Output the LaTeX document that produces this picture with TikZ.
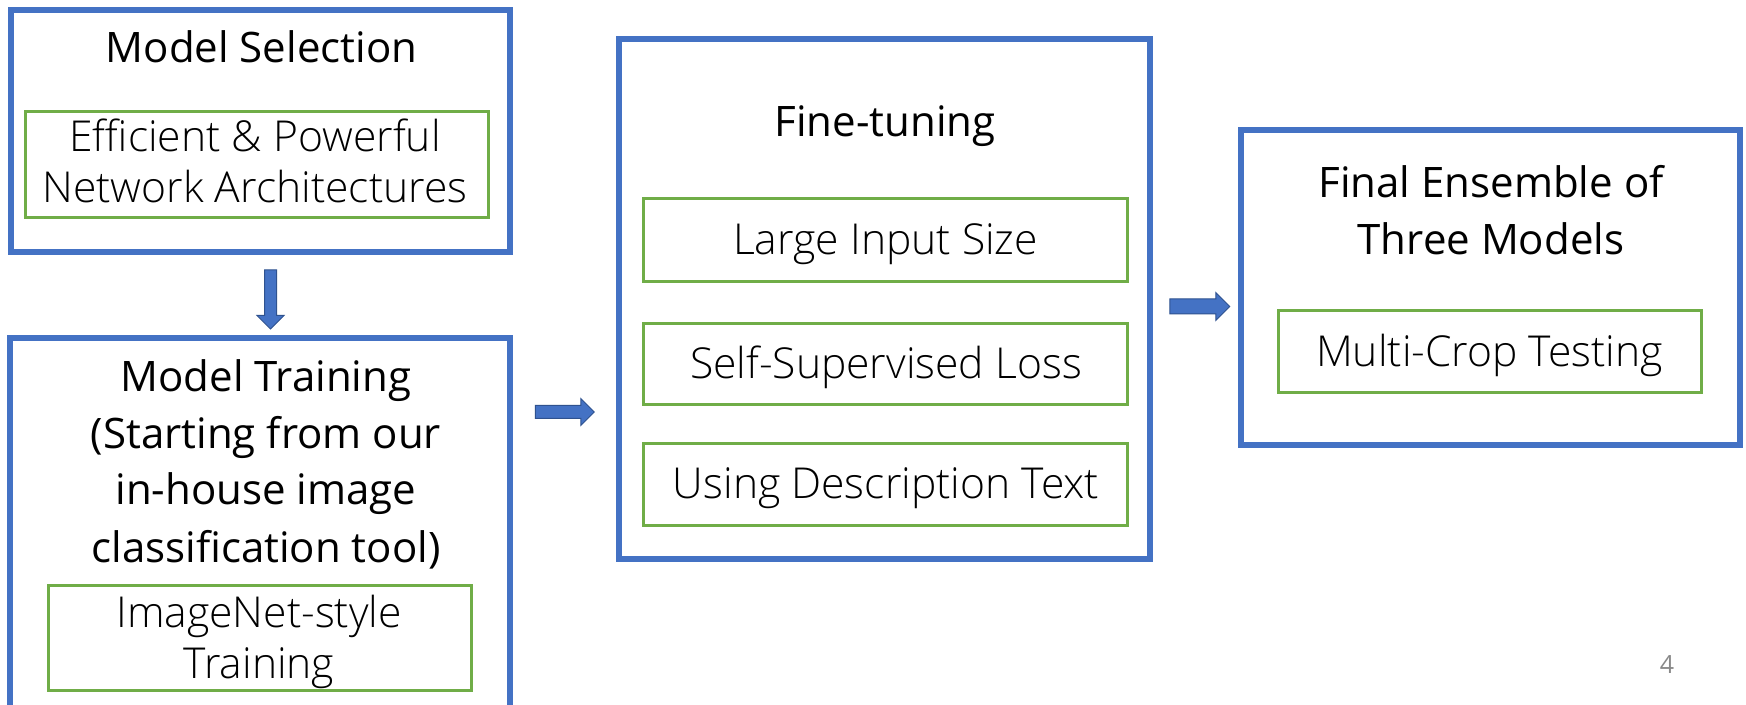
\documentclass[tikz,border=0pt]{standalone}
\usepackage{fontspec}
\setmainfont{Open Sans}
\newfontfamily\headfont{Open Sans}
\newfontfamily\lightfont{Open Sans Light}
\usetikzlibrary{shapes.arrows}
\definecolor{boxblue}{HTML}{4472C4}
\definecolor{boxgreen}{HTML}{70AD47}
\definecolor{arrowedge}{HTML}{2F528F}
\definecolor{pagegray}{HTML}{898989}
\tikzset{
  bluebox/.style={draw=boxblue, line width=3pt, inner sep=0pt},
  greenbox/.style={draw=boxgreen, line width=1.4pt, inner sep=0pt},
  headtext/.style={font=\headfont\fontsize{21}{28.5}\selectfont, align=center, anchor=base, inner sep=0pt},
  subtext/.style={font=\lightfont\fontsize{21.3}{25.5}\selectfont, align=center, anchor=base, inner sep=0pt},
  blockarrow/.style={single arrow, draw=arrowedge, fill=boxblue, line width=0.5pt,
    inner xsep=0pt, single arrow tip angle=90, single arrow head indent=0pt},
}
\begin{document}
\begin{tikzpicture}[x=0.5pt,y=-0.5pt]
\useasboundingbox[fill=white] (0,0) rectangle (1746,705);
% outer boxes
\node[bluebox, minimum width=249.5pt, minimum height=121pt] (ms) at (260.5,131) {};
\node[bluebox, minimum width=250pt, minimum height=201pt] (mt) at (260,539) {};
\node[bluebox, minimum width=265.5pt, minimum height=260pt] (ft) at (884.5,299) {};
\node[bluebox, minimum width=249.5pt, minimum height=157.5pt] (fe) at (1490.5,287.5) {};
% inner boxes
\node[greenbox, minimum width=231.6pt, minimum height=53.1pt] (g1) at (257,164.5) {};
\node[greenbox, minimum width=211.6pt, minimum height=52.6pt] (g2) at (260,638) {};
\node[greenbox, minimum width=242.1pt, minimum height=41.6pt] (g3a) at (885.5,240) {};
\node[greenbox, minimum width=242.1pt, minimum height=40.6pt] (g3b) at (885.5,364) {};
\node[greenbox, minimum width=242.1pt, minimum height=41.1pt] (g3c) at (885.5,484.5) {};
\node[greenbox, minimum width=211.6pt, minimum height=41.1pt] (g4) at (1490,351.5) {};
% headings (base anchor = baseline of the last line)
\node[headtext] (msT) at (261.5,63) {Model Selection};
\node[headtext] (mtT) at (266,562) {Model Training\\(Starting from our\\in-house image\\classification tool)};
\node[headtext] (ftT) at (885,137) {Fine-tuning};
\node[headtext] (feT) at (1491,255) {Final Ensemble of\\Three Models};
% sub texts
\node[subtext] (g1T) at (255,203) {Efficient \& Powerful\\Network Architectures};
\node[subtext] (g2T) at (259,678) {ImageNet-style\\Training};
\node[subtext] (g3aT) at (885.5,255) {Large Input Size};
\node[subtext] (g3bT) at (886,379) {Self-Supervised Loss};
\node[subtext] (g3cT) at (886,499) {Using Description Text};
\node[subtext] (g4T) at (1489.5,367) {Multi-Crop Testing};
% arrows
\node[blockarrow, inner ysep=2.75pt, single arrow head extend=3.75pt, minimum height=29.5pt, rotate=-90] (a1) at (270.5,296.5) {};
\node[blockarrow, inner ysep=3pt, single arrow head extend=3.5pt, minimum height=29.5pt] (a2) at (561.5,412) {};
\node[blockarrow, inner ysep=3.5pt, single arrow head extend=3.25pt, minimum height=30pt] (a3) at (1196,306.5) {};
% page number
\node[font=\fontsize{12.5}{15}\selectfont, text=pagegray, anchor=base, inner sep=0pt] (pg) at (1667,673) {4};
\end{tikzpicture}
\end{document}
